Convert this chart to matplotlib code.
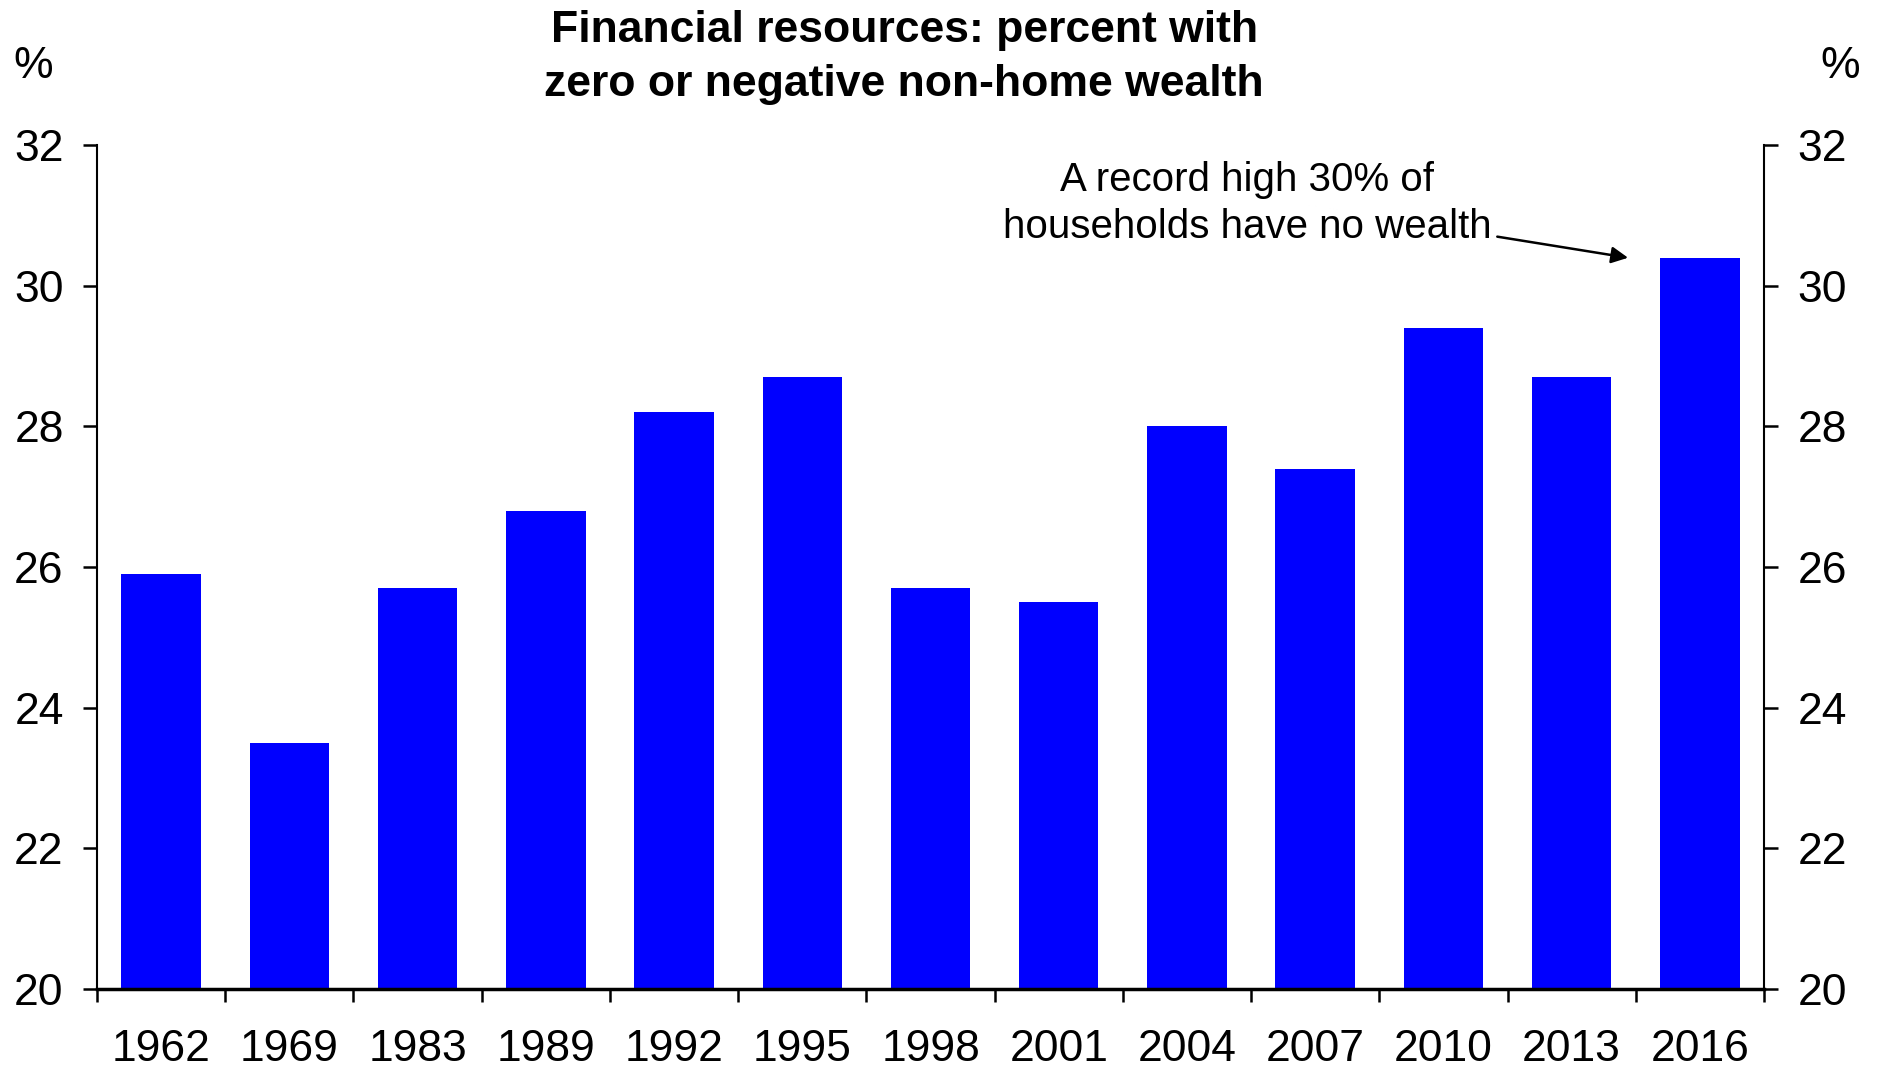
import matplotlib
matplotlib.use("Agg")
from matplotlib import pyplot as plt
import numpy as np

plt.rcParams['font.family'] = ['Liberation Sans', 'DejaVu Sans']

years = ['1962', '1969', '1983', '1989', '1992', '1995', '1998',
         '2001', '2004', '2007', '2010', '2013', '2016']
share = [25.9, 23.5, 25.7, 26.8, 28.2, 28.7, 25.7,
         25.5, 28.0, 27.4, 29.4, 28.7, 30.4]
y_ticks = [20, 22, 24, 26, 28, 30, 32]

fig = plt.figure(figsize=(18.8, 10.68), dpi=100)
ax = fig.add_axes([0.0516, 0.074, 0.8867, 0.790])

x = np.arange(len(years))
ax.bar(x, np.array(share) - 20, bottom=20, width=0.62, color='#0000ff', zorder=2)

ax.set_xlim(-0.5, len(years) - 0.5)
ax.set_ylim(20, 32)
ax.set_yticks(y_ticks)
ax.set_yticklabels([str(v) for v in y_ticks])

# category boundaries get the tick marks, labels sit between them
ax.set_xticks(np.arange(-0.5, len(years), 1.0))
ax.set_xticklabels([])
ax.set_xticks(x, minor=True)
ax.set_xticklabels(years, minor=True)
ax.tick_params(axis='x', which='major', direction='out', length=9, width=1.8)
ax.tick_params(axis='x', which='minor', length=0, pad=29, labelsize=32)
ax.tick_params(axis='y', direction='out', length=10, width=1.8, pad=14,
               labelsize=32, left=True, right=True, labelleft=True, labelright=True)

ax.spines['top'].set_visible(False)
ax.spines['left'].set_linewidth(1.5)
ax.spines['right'].set_linewidth(1.5)
ax.spines['bottom'].set_linewidth(2.5)

fig.text(0.481, 0.946, 'Financial resources: percent with\nzero or negative non-home wealth',
         ha='center', va='center', fontsize=32, fontweight='bold', linespacing=1.4)
fig.text(0.0176, 0.938, '%', ha='center', va='center', fontsize=32)
fig.text(0.979, 0.938, '%', ha='center', va='center', fontsize=32)

ax.text(8.47, 31.17, 'A record high 30% of\nhouseholds have no wealth',
        ha='center', va='center', fontsize=29, linespacing=1.29)
ax.annotate('', xy=(11.44, 30.40), xytext=(10.42, 30.70),
            arrowprops=dict(arrowstyle='-|>', color='black', lw=1.8,
                            mutation_scale=25, shrinkA=0, shrinkB=0))

fig.savefig('out.png', dpi=100)
